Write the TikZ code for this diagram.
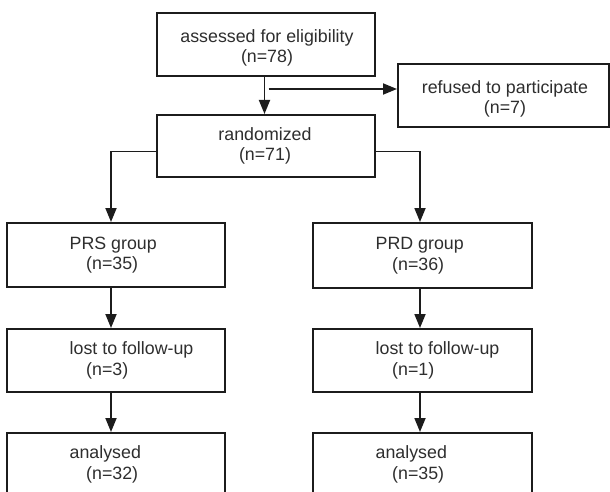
\documentclass[tikz,border=0pt]{standalone}
\usepackage{fontspec}
\setmainfont{Liberation Sans}
\usetikzlibrary{arrows.meta}
\definecolor{linec}{HTML}{1C1C1C}
\definecolor{textc}{HTML}{2E2E2E}
\begin{document}
\begin{tikzpicture}[x=1pt,y=-1pt,
  box/.style={draw=linec, line width=2pt, fill=white, inner sep=0pt, minimum width=218pt, minimum height=63pt},
  txt/.style={font=\fontsize{17.8}{20.5}\selectfont, text=textc, inner sep=0pt},
  ctxt/.style={txt, align=center},
  ltxt/.style={txt, align=left, anchor=west},
  arr/.style={draw=linec, line width=1.8pt, -{Triangle[length=14pt,width=11pt]}}]
\clip (0,0) rectangle (610,492);
\fill[white] (0,0) rectangle (610,492);
% boxes
\node[box] (top) at (266,44.5) {};
\node[box, minimum width=211pt] (ref) at (503.5,95.5) {};
\node[box, minimum height=62pt] (rand) at (266,146) {};
\node[box, minimum height=64pt] (prs) at (116,255) {};
\node[box, minimum width=219pt, minimum height=65pt] (prd) at (422.5,255.5) {};
\node[box] (lostl) at (116,360.5) {};
\node[box, minimum width=219pt] (lostr) at (422.5,360.5) {};
\node[box] (anl) at (116,464.5) {};
\node[box, minimum width=219pt] (anr) at (422.5,464.5) {};
% texts
\node[ctxt] (ttop) at (267,48) {assessed for eligibility\\(n=78)};
\node[ctxt] (tref) at (505,99) {refused to participate\\(n=7)};
\node[ctxt] (trand) at (265,146) {randomized\\(n=71)};
\node[ltxt] (tprs) at ([xshift=63.5pt]prs.west) {PRS group\\\hspace*{16.5pt}(n=35)};
\node[ltxt] (tprd) at ([xshift=63.5pt]prd.west) {PRD group\\\hspace*{16.5pt}(n=36)};
\node[ltxt] (tlostl) at ([xshift=63.5pt]lostl.west) {lost to follow-up\\\hspace*{16.5pt}(n=3)};
\node[ltxt] (tlostr) at ([xshift=63.5pt]lostr.west) {lost to follow-up\\\hspace*{16.5pt}(n=1)};
\node[ltxt] (tanl) at ([xshift=63.5pt]anl.west) {analysed\\\hspace*{16.5pt}(n=32)};
\node[ltxt] (tanr) at ([xshift=63.5pt]anr.west) {analysed\\\hspace*{16.5pt}(n=35)};
% connectors
\coordinate (cx) at (264.5,0);
\coordinate (hstart) at (268.5,89);
\coordinate (lx) at (111,0);
\coordinate (rx) at (420,0);
\draw[arr] (cx |- top.south) -- (cx |- rand.north);
\draw[arr] (hstart) -- (hstart -| ref.west);
\draw[arr] ([yshift=-5.5pt]rand.west) -| (lx |- prs.north);
\draw[arr] ([yshift=-5.5pt]rand.east) -| (rx |- prd.north);
\draw[arr] (lx |- prs.south) -- (lx |- lostl.north);
\draw[arr] (rx |- prd.south) -- (rx |- lostr.north);
\draw[arr] (lx |- lostl.south) -- (lx |- anl.north);
\draw[arr] (rx |- lostr.south) -- (rx |- anr.north);
\end{tikzpicture}
\end{document}
